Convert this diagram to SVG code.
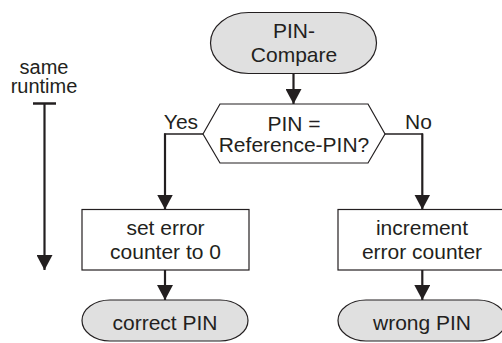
<svg xmlns="http://www.w3.org/2000/svg" width="502" height="343" viewBox="0 0 502 343">
<defs>
<style>
text{font-family:"Liberation Sans",Arial,sans-serif;font-size:21px;fill:#231f20;text-anchor:middle}
.small{font-size:20px}
.term{fill:#e0e0e0;stroke:#231f20;stroke-width:1.2}
.box{fill:#fff;stroke:#231f20;stroke-width:1.2}
.v{stroke:#231f20;stroke-width:2.2;fill:none}
.h{stroke:#231f20;stroke-width:1.3;fill:none}
</style>
<marker id="ah" markerUnits="userSpaceOnUse" markerWidth="16" markerHeight="16" viewBox="0 0 16 16" refX="15" refY="8" orient="auto">
<path d="M0,0 L15,8 L0,16 Z" fill="#231f20"/>
</marker>
</defs>
<rect width="502" height="343" fill="#fff"/>
<g id="time">
<text class="small" x="44" y="73.5">same</text>
<text class="small" x="44" y="93">runtime</text>
<line x1="33" y1="103.5" x2="56" y2="103.5" stroke="#231f20" stroke-width="2.5"/>
<line x1="44.5" y1="103" x2="44.5" y2="270" class="v" marker-end="url(#ah)"/>
</g>
<g id="start">
<rect class="term" x="210.5" y="12.5" width="166" height="61" rx="38" ry="30.5"/>
<text x="294" y="38">PIN-</text>
<text x="294" y="61.5">Compare</text>
</g>
<g id="decision">
<polygon class="box" points="203,134 220,104 368,104 385,134 368,163 220,163"/>
<text x="294" y="131">PIN =</text>
<text x="294" y="152">Reference-PIN?</text>
</g>
<g id="reset">
<rect class="box" x="82" y="209.5" width="167" height="60.5"/>
<text x="165.5" y="234.5">set error</text>
<text x="165.5" y="259">counter to 0</text>
</g>
<g id="increment">
<rect class="box" x="338" y="209.5" width="168" height="60.5"/>
<text x="422" y="234.5">increment</text>
<text x="422" y="259">error counter</text>
</g>
<g id="correct">
<rect class="term" x="82" y="300" width="166" height="41" rx="28" ry="20.5"/>
<text x="165" y="330">correct PIN</text>
</g>
<g id="wrong">
<rect class="term" x="338" y="300" width="168" height="41" rx="28" ry="20.5"/>
<text x="422" y="330">wrong PIN</text>
</g>
<g id="connectors">
<line class="v" x1="293.5" y1="74" x2="293.5" y2="104" marker-end="url(#ah)"/>
<line class="h" x1="203" y1="134" x2="164" y2="134"/>
<line class="v" x1="165" y1="133.5" x2="165" y2="209.5" marker-end="url(#ah)"/>
<line class="h" x1="385" y1="134" x2="423" y2="134"/>
<line class="v" x1="422.3" y1="133.5" x2="422.3" y2="209.5" marker-end="url(#ah)"/>
<line class="v" x1="165" y1="270" x2="165" y2="300" marker-end="url(#ah)"/>
<line class="v" x1="422.3" y1="270" x2="422.3" y2="300" marker-end="url(#ah)"/>
<text x="181" y="129">Yes</text>
<text x="418.5" y="129">No</text>
</g>
</svg>
